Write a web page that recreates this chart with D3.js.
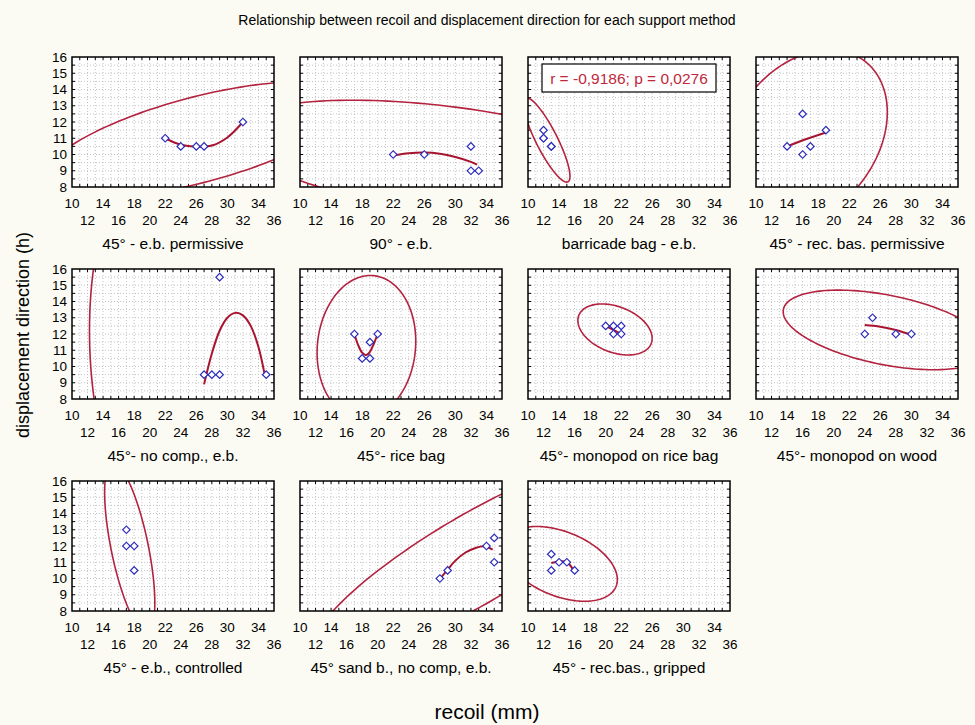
<!DOCTYPE html>
<html>
<head>
<meta charset="utf-8">
<script src="https://cdn.jsdelivr.net/npm/d3@7"></script>
<style>
    body { margin: 0; background: #fbfbf3; }
    svg { font-family: "Liberation Sans", Arial, sans-serif; }
</style>
</head>
<body>
<div id="chart"></div>
<script>

// panel titles
let panelLabels = ["45° - e.b. permissive", "90° - e.b.", "barricade bag - e.b.", "45° - rec. bas. permissive",
    "45°- no comp., e.b.", "45°- rice bag", "45°- monopod on rice bag", "45°- monopod on wood",
    "45° - e.b., controlled", "45° sand b., no comp, e.b.", "45° - rec.bas., gripped"];

// observed points (recoil mm, displacement h)
let panelPoints = [
    [[22, 11], [24, 10.5], [26, 10.5], [27, 10.5], [32, 12]],
    [[22, 10], [26, 10], [32, 10.5], [32, 9], [33, 9]],
    [[12, 11.5], [12, 11], [12, 11], [13, 10.5], [13, 10.5]],
    [[16, 12.5], [19, 11.5], [14, 10.5], [17, 10.5], [16, 10]],
    [[27, 9.5], [28, 9.5], [29, 9.5], [29, 15.5], [35, 9.5]],
    [[17, 12], [20, 12], [19, 11.5], [18, 10.5], [19, 10.5]],
    [[20, 12.5], [21, 12.5], [22, 12.5], [21, 12], [22, 12]],
    [[24, 12], [25, 13], [28, 12], [30, 12]],
    [[17, 13], [17, 12], [18, 12], [18, 10.5]],
    [[28, 10], [29, 10.5], [34, 12], [35, 12.5], [35, 11]],
    [[13, 11.5], [13, 10.5], [14, 11], [15, 11], [16, 10.5]]
];

// fitted curves
let panelCurves = [
    [[22, 11], [24, 10.6], [26, 10.48], [28, 10.55], [30, 11.05], [32, 12]],
    [[22, 9.94], [24, 10.08], [26, 10.12], [28, 10.05], [30, 9.85], [32, 9.55], [32.8, 9.37]],
    [],
    [[14, 10.5], [16.5, 10.95], [19, 11.35]],
    [[27, 8.9], [28, 10.8], [29, 12.2], [30, 13.0], [31, 13.3], [32, 13.15], [33, 12.5], [34, 11.2], [34.8, 9.5]],
    [[17, 12], [17.5, 11.3], [18, 10.85], [18.5, 10.7], [19, 10.9], [19.5, 11.4], [20, 12]],
    [[20, 12.5], [21, 12.25], [22, 12]],
    [[24, 12.55], [26, 12.45], [28, 12.25], [30, 11.95]],
    [],
    [[28, 9.96], [29, 10.54], [30, 11.1], [31.3, 11.6], [32.6, 11.88], [33.7, 11.98], [34.8, 11.77]],
    [[13, 10.95], [14, 11.05], [15, 11.0], [16, 10.4]]
];

// confidence ellipses: centre, half extent in x and y, correlation
let ellCx = [26.2, 29, 12.4, 16.4, 29.6, 18.55, 21.2, 26.75, 17.43, 32.5, 14.2];
let ellCy = [10.9, 9.7, 10.9, 11, 10.7, 11.2, 12.28, 12.25, 11.9, 11.2, 10.9];
let ellSx = [19.9, 27.9, 3.0, 10.5, 17.35, 6.35, 4.78, 13.25, 3.23, 21, 7.3];
let ellSy = [3.57, 3.64, 2.6, 5.44, 16.07, 4.4, 1.57, 2.45, 5.2, 6.3, 2.3];
let ellR = [0.65, -0.437, -0.86, 0.294, -0.093, 0.08, -0.35, -0.46, -0.654, 0.867, -0.42];

let xTicksTop = [10, 14, 18, 22, 26, 30, 34];
let xTicksBottom = [12, 16, 20, 24, 28, 32, 36];
let yTicks = [8, 9, 10, 11, 12, 13, 14, 15, 16];
let statText = "r = -0,9186; p = 0,0276";


let svg = d3.select("#chart").append("svg")
    .attr("width", 975)
    .attr("height", 725);

svg.append("rect")
    .attr("width", 975)
    .attr("height", 725)
    .attr("fill", "#fbfbf3");

svg.append("text")
    .attr("x", 487)
    .attr("y", 25)
    .attr("text-anchor", "middle")
    .style("font-size", "14px")
    .text("Relationship between recoil and displacement direction for each support method");

svg.append("text")
    .attr("transform", "translate(29,335) rotate(-90)")
    .attr("text-anchor", "middle")
    .style("font-size", "18px")
    .text("displacement direction (h)");

svg.append("text")
    .attr("x", 487)
    .attr("y", 719)
    .attr("text-anchor", "middle")
    .style("font-size", "21px")
    .text("recoil (mm)");


Panel = function (_index) {
    this.index = _index;
    this.initVis();
};

Panel.prototype.initVis = function () {
    let vis = this;
    let col = vis.index % 4, row = Math.floor(vis.index / 4);

    vis.width = 202;
    vis.height = 130;
    vis.left = 72 + col * 228;
    vis.top = 57 + row * 212;

    vis.g = svg.append("g")
        .attr("transform", "translate(" + vis.left + "," + vis.top + ")");

    vis.x = d3.scaleLinear().domain([10, 36]).range([0, vis.width]);
    vis.y = d3.scaleLinear().domain([8, 16]).range([vis.height, 0]);

    vis.g.append("defs").append("clipPath")
        .attr("id", "clip" + vis.index)
        .append("rect")
        .attr("width", vis.width)
        .attr("height", vis.height);

    vis.g.append("rect")
        .attr("width", vis.width)
        .attr("height", vis.height)
        .attr("fill", "white");

    // dotted grid
    vis.g.append("g").selectAll("line.gx")
        .data(d3.range(11, 36))
        .enter().append("line")
        .attr("x1", d => vis.x(d)).attr("x2", d => vis.x(d))
        .attr("y1", 0).attr("y2", vis.height)
        .attr("stroke", "#c4c4c4")
        .attr("stroke-dasharray", "1,2");

    vis.g.append("g").selectAll("line.gy")
        .data(d3.range(8.5, 16, 0.5))
        .enter().append("line")
        .attr("x1", 0).attr("x2", vis.width)
        .attr("y1", d => vis.y(d)).attr("y2", d => vis.y(d))
        .attr("stroke", "#c4c4c4")
        .attr("stroke-dasharray", "1,2");

    // small inner ticks on the frame
    let tickG = vis.g.append("g").attr("stroke", "black").attr("stroke-width", 1);
    d3.range(11, 36).forEach(function (d) {
        tickG.append("line").attr("x1", vis.x(d)).attr("x2", vis.x(d)).attr("y1", 0).attr("y2", 3);
        tickG.append("line").attr("x1", vis.x(d)).attr("x2", vis.x(d)).attr("y1", vis.height).attr("y2", vis.height - 3);
    });
    d3.range(8.5, 16, 0.5).forEach(function (d) {
        tickG.append("line").attr("y1", vis.y(d)).attr("y2", vis.y(d)).attr("x1", 0).attr("x2", 3);
        tickG.append("line").attr("y1", vis.y(d)).attr("y2", vis.y(d)).attr("x1", vis.width).attr("x2", vis.width - 3);
    });

    let plot = vis.g.append("g").attr("clip-path", "url(#clip" + vis.index + ")");

    // ellipse
    let i = vis.index;
    let ellPts = d3.range(0, 361, 2).map(function (deg) {
        let t = deg * Math.PI / 180;
        return [ellCx[i] + ellSx[i] * Math.cos(t),
            ellCy[i] + ellSy[i] * (ellR[i] * Math.cos(t) + Math.sqrt(1 - ellR[i] * ellR[i]) * Math.sin(t))];
    });
    let line = d3.line().x(d => vis.x(d[0])).y(d => vis.y(d[1]));

    plot.append("path")
        .datum(ellPts)
        .attr("d", line)
        .attr("fill", "none")
        .attr("stroke", "#b3223f")
        .attr("stroke-width", 1.6);

    if (panelCurves[i].length > 0) {
        plot.append("path")
            .datum(panelCurves[i])
            .attr("d", line.curve(d3.curveCatmullRom))
            .attr("fill", "none")
            .attr("stroke", "#a8142f")
            .attr("stroke-width", 2);
    }

    plot.selectAll("path.pt")
        .data(panelPoints[i])
        .enter().append("path")
        .attr("d", d3.symbol().type(d3.symbolSquare).size(28))
        .attr("transform", d => "translate(" + vis.x(d[0]) + "," + vis.y(d[1]) + ") rotate(45)")
        .attr("fill", "white")
        .attr("stroke", "#2b2bbd")
        .attr("stroke-width", 1.2);

    vis.g.append("rect")
        .attr("width", vis.width)
        .attr("height", vis.height)
        .attr("fill", "none")
        .attr("stroke", "black")
        .attr("stroke-width", 1.5);

    // two staggered rows of x labels
    vis.g.selectAll("text.xt")
        .data(xTicksTop)
        .enter().append("text")
        .attr("x", d => vis.x(d))
        .attr("y", vis.height + 21)
        .attr("text-anchor", "middle")
        .style("font-size", "13.5px")
        .text(d => d);

    vis.g.selectAll("text.xb")
        .data(xTicksBottom)
        .enter().append("text")
        .attr("x", d => vis.x(d))
        .attr("y", vis.height + 38)
        .attr("text-anchor", "middle")
        .style("font-size", "13.5px")
        .text(d => d);

    if (col === 0) {
        vis.g.selectAll("text.yt")
            .data(yTicks)
            .enter().append("text")
            .attr("x", -5)
            .attr("y", d => vis.y(d))
            .attr("dy", "0.35em")
            .attr("text-anchor", "end")
            .style("font-size", "13.5px")
            .text(d => d);
    }

    vis.g.append("text")
        .attr("x", vis.width / 2)
        .attr("y", vis.height + 62)
        .attr("text-anchor", "middle")
        .style("font-size", "15.5px")
        .text(panelLabels[i]);

    if (i === 2) {
        vis.g.append("rect")
            .attr("x", 14)
            .attr("y", 7)
            .attr("width", 174)
            .attr("height", 28)
            .attr("fill", "white")
            .attr("stroke", "black")
            .attr("stroke-width", 1.2);
        vis.g.append("text")
            .attr("x", 101)
            .attr("y", 27)
            .attr("text-anchor", "middle")
            .attr("fill", "#c0283c")
            .style("font-size", "15.5px")
            .text(statText);
    }
};

for (let k = 0; k < panelLabels.length; k++) {
    new Panel(k);
}

</script>
</body>
</html>
